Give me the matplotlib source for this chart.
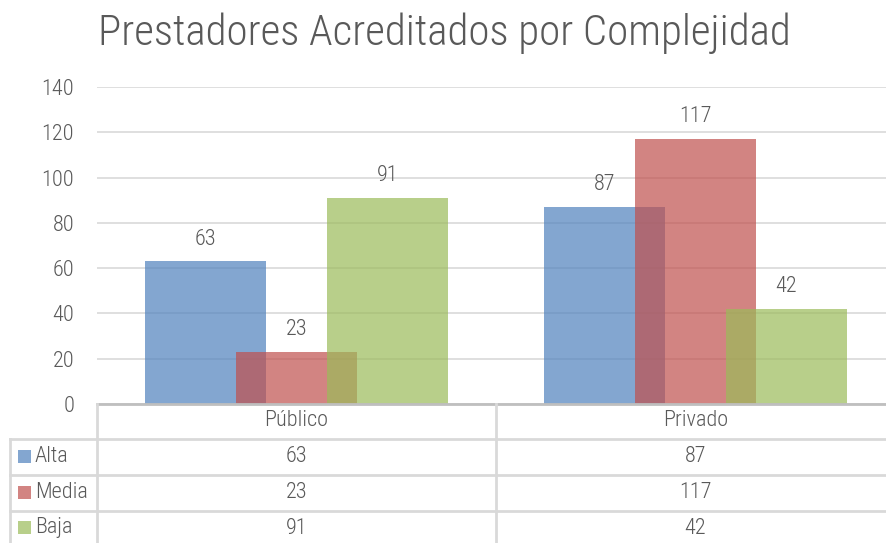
import numpy as np
import matplotlib.pyplot as plt
from matplotlib import font_manager
from matplotlib.lines import Line2D
from matplotlib.patches import Rectangle

# Data
categories = ["Público", "Privado"]
series = ["Alta", "Media", "Baja"]
alta = [63, 87]
media = [23, 117]
baja = [91, 42]
colors = ["#4F81BD", "#C0504D", "#9BBB59"]

# narrow font similar to Arial Narrow, whichever is there
installed = set(f.name for f in font_manager.fontManager.ttflist)
narrow = [n for n in ['Liberation Sans Narrow', 'Arial Narrow', 'Roboto Condensed', 'PT Sans Narrow',
                      'Archivo Narrow', 'IBM Plex Sans Condensed'] if n in installed]
plt.rcParams['font.family'] = narrow[:1] + ['DejaVu Sans']
plt.rcParams['font.weight'] = 300
txt_color = "#595959"
grid_color = "#D9D9D9"
fs = 16

W, H = 886, 543
fig = plt.figure(figsize=(W / 100, H / 100), dpi=100)


def fx(px):
    return px / W


def fy(py):
    return 1 - py / H


# plot area (right edge runs past the image, as in the original)
left, right, top, bottom = 97, 895, 87, 404
ax = fig.add_axes([fx(left), fy(bottom), fx(right - left), fy(top) - fy(bottom)])

x = np.arange(len(categories))
width = 0.303
offset = 0.228
values = [alta, media, baja]
for i, vals in enumerate(values):
    pos = x + (i - 1) * offset
    ax.bar(pos, vals, width, color=colors[i], alpha=0.7, zorder=2)
    for p, v in zip(pos, vals):
        ax.annotate(str(v), (p, v), xytext=(0, 8.5), textcoords='offset points',
                    ha='center', va='bottom', fontsize=fs, color=txt_color)

ax.set_xlim(-0.5, 1.5)
ax.set_ylim(0, 140)
ax.set_yticks(range(0, 141, 20))
ax.yaxis.grid(True, color=grid_color, lw=1.2, zorder=0)
ax.set_xticks([])
ax.tick_params(axis='y', length=0, pad=16.5, labelsize=fs, labelcolor=txt_color)
for s in ax.spines.values():
    s.set_visible(False)

fig.text(fx(444), fy(33), "Prestadores Acreditados por Complejidad",
         ha='center', va='center', fontsize=31, color=txt_color)

# data table below the axis
line_c = "#D9D9D9"
row_lines = [439, 475, 511]
table_bottom = 543
cat_edges = [97, 496, 895]


def hline(y, x0, x1, c=line_c, lw=2):
    fig.add_artist(Line2D([fx(x0), fx(x1)], [fy(y), fy(y)], color=c, lw=lw))


def vline(xp, y0, y1, c=line_c, lw=2):
    fig.add_artist(Line2D([fx(xp), fx(xp)], [fy(y0), fy(y1)], color=c, lw=lw))


hline(bottom, 97, 886, c="#BFBFBF", lw=2)
for y in row_lines:
    hline(y, 10, 886)
vline(10, row_lines[0], table_bottom)
for xp in cat_edges[:-1]:
    vline(xp, bottom, table_bottom)

# header
for j, cat in enumerate(categories):
    cx = (cat_edges[j] + cat_edges[j + 1]) / 2
    fig.text(fx(cx), fy(421), cat, ha='center', va='center', fontsize=fs, color=txt_color)

row_centers = [457, 493, 528]
for i, name in enumerate(series):
    yc = row_centers[i]
    fig.add_artist(Rectangle((fx(18), fy(yc + 6)), fx(13), fy(yc - 7) - fy(yc + 6),
                             color=colors[i], alpha=0.7, lw=0))
    fig.text(fx(35), fy(yc), name, ha='left', va='center', fontsize=fs, color=txt_color)
    for j in range(len(categories)):
        cx = (cat_edges[j] + cat_edges[j + 1]) / 2
        fig.text(fx(cx), fy(yc), str(values[i][j]), ha='center', va='center',
                 fontsize=fs, color=txt_color)

fig.savefig("out.png", dpi=100)
